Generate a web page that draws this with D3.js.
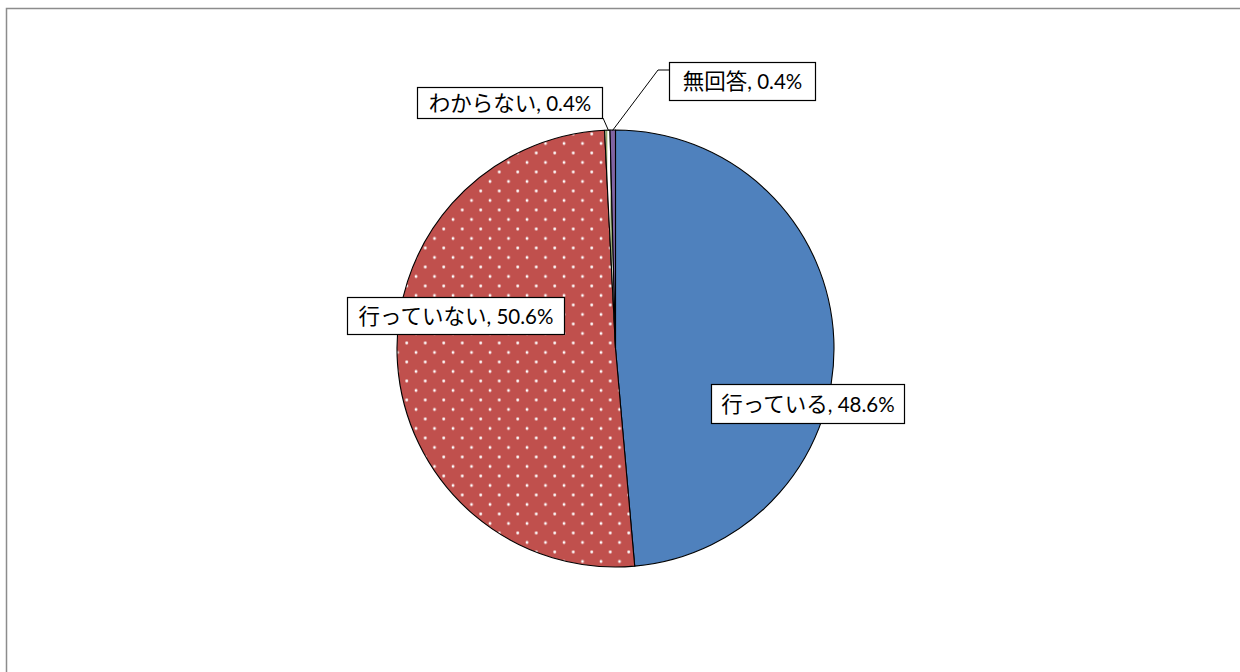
<!DOCTYPE html>
<html><head><meta charset="utf-8">
<script src="https://cdn.jsdelivr.net/npm/d3@7"></script>
<style>body{margin:0;background:#fff}svg{display:block}</style>
</head><body>
<svg id="c" width="1240" height="672"></svg>
<script>
const categories = ["行っている", "行っていない", "わからない", "無回答"];
const values = [48.6, 50.6, 0.4, 0.4];
const labels = ["48.6%", "50.6%", "0.4%", "0.4%"];

const svg = d3.select("#c");
const defs = svg.append("defs");
const dots = defs.append("pattern").attr("id","dots").attr("patternUnits","userSpaceOnUse")
  .attr("width",18.5).attr("height",19);
dots.append("rect").attr("width",18.5).attr("height",19).attr("fill","#C0504D");
dots.append("circle").attr("cx",4).attr("cy",4).attr("r",1.4).attr("fill","#ffffff");
dots.append("circle").attr("cx",13.25).attr("cy",13.5).attr("r",1.4).attr("fill","#ffffff");
const gp = defs.append("pattern").attr("id","grn").attr("patternUnits","userSpaceOnUse")
  .attr("width",5).attr("height",5);
gp.append("rect").attr("width",5).attr("height",5).attr("fill","#ffffff");
gp.append("rect").attr("width",1.5).attr("height",5).attr("fill","#6f8a3a");

const fills = ["#4F81BD","url(#dots)","url(#grn)","#8064A2"];

// chart border
svg.append("rect").attr("x",6.5).attr("y",8.5).attr("width",1300).attr("height",700)
  .attr("fill","none").attr("stroke","#8c8c8c").attr("stroke-width",1.5);

const cx = 615.5, cy = 348.5, r = 218.5;
const pie = d3.pie().sort(null).value(d=>d)(values);
const arc = d3.arc().innerRadius(0).outerRadius(r);
const g = svg.append("g").attr("transform",`translate(${cx},${cy})`);
g.selectAll("path").data(pie).join("path")
  .attr("d",arc).attr("fill",(d,i)=>fills[i])
  .attr("stroke","#000").attr("stroke-width",1.1).attr("stroke-linejoin","round");

// leader lines
const leaders = [
  [[603,118],[608.5,130.5]],
  [[669,70],[658,70],[612.5,130.5]]
];
leaders.forEach(pts=>{
  svg.append("path").attr("d",d3.line()(pts)).attr("fill","none").attr("stroke","#000").attr("stroke-width",1);
});

// label boxes
const boxes = [
  {i:0, x:711, y:384, w:193, h:39},
  {i:1, x:347, y:297, w:217, h:37},
  {i:2, x:417, y:87, w:185, h:31},
  {i:3, x:669, y:62, w:146, h:38}
];
boxes.forEach(b=>{
  const gg = svg.append("g");
  gg.append("rect").attr("x",b.x+0.5).attr("y",b.y+0.5).attr("width",b.w).attr("height",b.h)
    .attr("fill","#fff").attr("stroke","#000").attr("stroke-width",1.2);
  const t = gg.append("text").attr("x",b.x+b.w/2+0.5).attr("y",b.y+b.h/2+8)
    .attr("text-anchor","middle").attr("fill","#000");
  t.append("tspan").attr("font-family","'Noto Sans CJK JP', sans-serif").attr("font-size",21.5).text(categories[b.i]);
  t.append("tspan").attr("font-family","Lato, 'Open Sans', sans-serif").attr("font-size",20.5).text(", " + labels[b.i]);
});
</script>
</body></html>
